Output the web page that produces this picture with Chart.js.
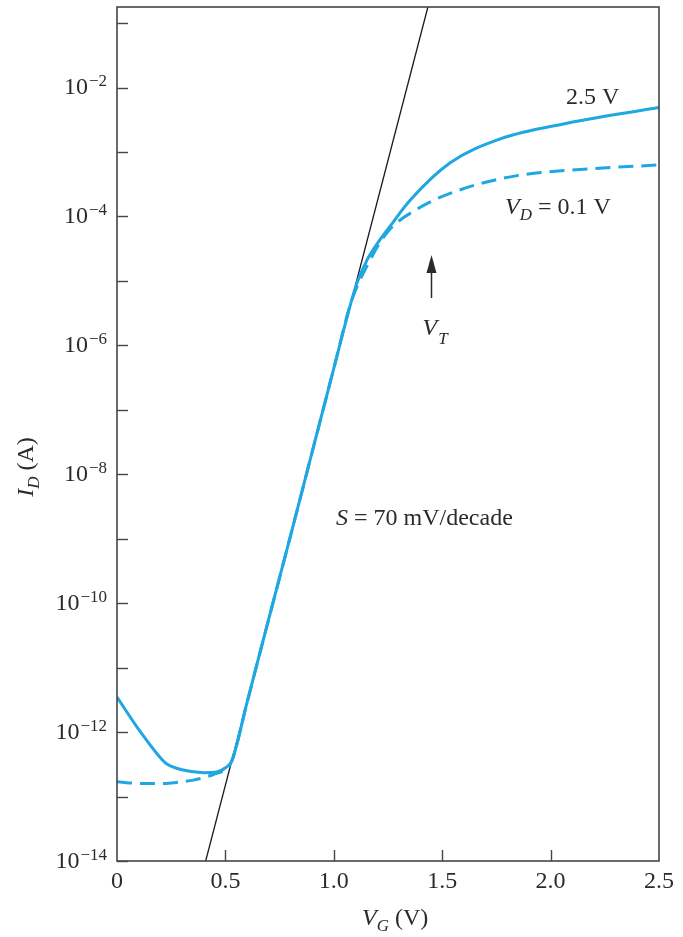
<!DOCTYPE html>
<html>
<head>
<meta charset="utf-8">
<script src="https://cdn.jsdelivr.net/npm/chart.js@4/dist/chart.umd.min.js"></script>
<style>
  html, body { margin: 0; padding: 0; background: #fff; }
  #wrap { position: relative; width: 683px; height: 937px; }
</style>
</head>
<body>
<div id="wrap"><canvas id="chart"></canvas></div>
<script>
// Drain current vs. gate voltage, V_D = 2.5 V (solid)
const vgHigh = [0.00, 0.10, 0.20, 0.23, 0.30, 0.40, 0.46, 0.50, 0.53, 0.60, 0.70, 0.80, 0.90, 1.00, 1.08, 1.107, 1.153, 1.214, 1.26, 1.353, 1.537, 1.768, 2.076, 2.50];
const idHigh = [3.5e-12, 1.1e-12, 4.0e-13, 3.2e-13, 2.6e-13, 2.35e-13, 2.4e-13, 2.8e-13, 3.6e-13, 2.9e-12, 5.7e-11, 1.1e-9, 2.2e-8, 4.4e-7, 4.7e-6, 9.3e-6, 2.1e-5, 4.4e-5, 7.1e-5, 1.8e-4, 6.8e-4, 1.6e-3, 2.8e-3, 4.9e-3];

// Drain current vs. gate voltage, V_D = 0.1 V (dashed)
const vgLow = [0.00, 0.10, 0.23, 0.30, 0.352, 0.445, 0.506, 0.53, 0.60, 0.70, 0.80, 0.90, 1.00, 1.08, 1.153, 1.245, 1.384, 1.584, 1.845, 2.153, 2.50];
const idLow = [1.7e-13, 1.6e-13, 1.6e-13, 1.7e-13, 1.8e-13, 2.2e-13, 2.75e-13, 3.6e-13, 2.9e-12, 5.7e-11, 1.1e-9, 2.2e-8, 4.4e-7, 4.7e-6, 1.7e-5, 5.6e-5, 1.3e-4, 2.6e-4, 4.3e-4, 5.4e-4, 6.3e-4];

// Subthreshold slope line (S = 70 mV/decade)
const vgSlope = [0.409, 1.434];
const idSlope = [1e-14, 0.178];

// Axes
const xTicks = [0, 0.5, 1.0, 1.5, 2.0, 2.5];
const xTickLabels = ['0', '0.5', '1.0', '1.5', '2.0', '2.5'];
const yTickExponents = [-14, -13, -12, -11, -10, -9, -8, -7, -6, -5, -4, -3, -2, -1];
const yLabelExponents = [-14, -12, -10, -8, -6, -4, -2];

const toPoints = (xs, ys) => xs.map((x, i) => ({ x: x, y: ys[i] }));

const BLUE = '#1ea7e1';
const INK = '#2b2b2b';
const FRAME = '#454545';
const SERIF = '"Liberation Serif", "DejaVu Serif", serif';
const FS = 24;

// Draw a run of text pieces (italic / subscript / superscript) starting at x, baseline y
function partFont(p, size) {
  const fs = p.sub || p.sup ? Math.round(size * 0.71) : size;
  return (p.italic ? 'italic ' : '') + fs + 'px ' + SERIF;
}
function drawRich(ctx, x, y, parts, size) {
  let cx = x;
  parts.forEach(p => {
    ctx.font = partFont(p, size);
    const dy = p.sub ? (p.drop !== undefined ? p.drop : size * 0.24) : (p.sup ? -size * 0.32 : 0);
    cx += (p.dx || 0);
    ctx.fillText(p.t, cx, y + dy);
    cx += ctx.measureText(p.t).width;
  });
  return cx - x;
}
function richWidth(ctx, parts, size) {
  let w = 0;
  parts.forEach(p => {
    ctx.font = partFont(p, size);
    w += ctx.measureText(p.t).width + (p.dx || 0);
  });
  return w;
}

const axesAndNotes = {
  id: 'axesAndNotes',
  afterDatasetsDraw(chart) {
    const ctx = chart.ctx;
    const a = chart.chartArea;
    const xs = chart.scales.x;
    const ys = chart.scales.y;
    ctx.save();

    // frame
    ctx.strokeStyle = FRAME;
    ctx.lineWidth = 1.6;
    ctx.strokeRect(a.left, a.top, a.right - a.left, a.bottom - a.top);

    // y tick marks (inward) at every decade
    ctx.lineWidth = 1.4;
    yTickExponents.forEach(e => {
      const py = Math.round(ys.getPixelForValue(Math.pow(10, e))) + 0.5;
      ctx.beginPath();
      ctx.moveTo(a.left, py);
      ctx.lineTo(a.left + 11, py);
      ctx.stroke();
    });
    // x tick marks (inward)
    xTicks.forEach(v => {
      if (v === 0 || v === 2.5) return;
      const px = Math.round(xs.getPixelForValue(v)) + 0.5;
      ctx.beginPath();
      ctx.moveTo(px, a.bottom);
      ctx.lineTo(px, a.bottom - 11);
      ctx.stroke();
    });

    ctx.fillStyle = INK;
    ctx.textBaseline = 'alphabetic';
    ctx.textAlign = 'left';

    // y tick labels: 10^e
    yLabelExponents.forEach(e => {
      const py = ys.getPixelForValue(Math.pow(10, e));
      const parts = [{ t: '10' }, { t: '\u2212' + Math.abs(e), sup: true, dx: 1 }];
      const w = richWidth(ctx, parts, FS);
      drawRich(ctx, a.left - 10 - w, py + 6.5, parts, FS);
    });

    // x tick labels
    ctx.font = FS + 'px ' + SERIF;
    ctx.textAlign = 'center';
    xTicks.forEach((v, i) => {
      ctx.fillText(xTickLabels[i], xs.getPixelForValue(v), a.bottom + 27);
    });
    ctx.textAlign = 'left';

    // axis titles
    const xTitle = [{ t: 'V', italic: true }, { t: 'G', italic: true, sub: true }, { t: ' (V)' }];
    drawRich(ctx, 362, a.bottom + 64, xTitle, FS);

    const yTitle = [{ t: 'I', italic: true }, { t: 'D', italic: true, sub: true }, { t: ' (A)' }];
    const yw = richWidth(ctx, yTitle, FS);
    ctx.save();
    ctx.translate(33, 467);
    ctx.rotate(-Math.PI / 2);
    drawRich(ctx, -yw / 2, 0, yTitle, FS);
    ctx.restore();

    // curve labels
    drawRich(ctx, 566, 104, [{ t: '2.5 V' }], FS);
    drawRich(ctx, 505, 214, [{ t: 'V', italic: true }, { t: 'D', italic: true, sub: true }, { t: ' = 0.1 V' }], FS);
    drawRich(ctx, 336, 525, [{ t: 'S', italic: true }, { t: ' = 70 mV/decade' }], FS);

    // threshold arrow and label
    const ax = Math.round(xs.getPixelForValue(1.45)) + 0.5;
    ctx.strokeStyle = INK;
    ctx.lineWidth = 1.5;
    ctx.beginPath();
    ctx.moveTo(ax, 298);
    ctx.lineTo(ax, 268);
    ctx.stroke();
    ctx.beginPath();
    ctx.moveTo(ax, 255);
    ctx.lineTo(ax - 5, 273);
    ctx.lineTo(ax + 5, 273);
    ctx.closePath();
    ctx.fill();
    drawRich(ctx, ax - 9, 335, [{ t: 'V', italic: true }, { t: 'T', italic: true, sub: true, drop: 9, dx: 1 }], FS);

    ctx.restore();
  }
};

new Chart(document.getElementById('chart'), {
  type: 'line',
  data: {
    datasets: [
      {
        label: 'V_D = 2.5 V',
        data: toPoints(vgHigh, idHigh),
        borderColor: BLUE,
        borderWidth: 3,
        pointRadius: 0,
        cubicInterpolationMode: 'monotone',
        fill: false
      },
      {
        label: 'V_D = 0.1 V',
        data: toPoints(vgLow, idLow),
        borderColor: BLUE,
        borderWidth: 3,
        borderDash: [15, 8],
        pointRadius: 0,
        cubicInterpolationMode: 'monotone',
        fill: false
      },
      {
        label: 'S = 70 mV/decade',
        data: toPoints(vgSlope, idSlope),
        borderColor: '#1a1a1a',
        borderWidth: 1.3,
        pointRadius: 0,
        tension: 0,
        fill: false
      }
    ]
  },
  options: {
    responsive: true,
    maintainAspectRatio: false,
    animation: false,
    layout: { padding: { left: 117, right: 24, top: 7, bottom: 76 } },
    plugins: { legend: { display: false }, tooltip: { enabled: false } },
    scales: {
      x: { type: 'linear', min: 0, max: 2.5, display: false },
      y: { type: 'logarithmic', min: 1e-14, max: Math.pow(10, -0.75), display: false }
    }
  },
  plugins: [axesAndNotes]
});
</script>
</body>
</html>
